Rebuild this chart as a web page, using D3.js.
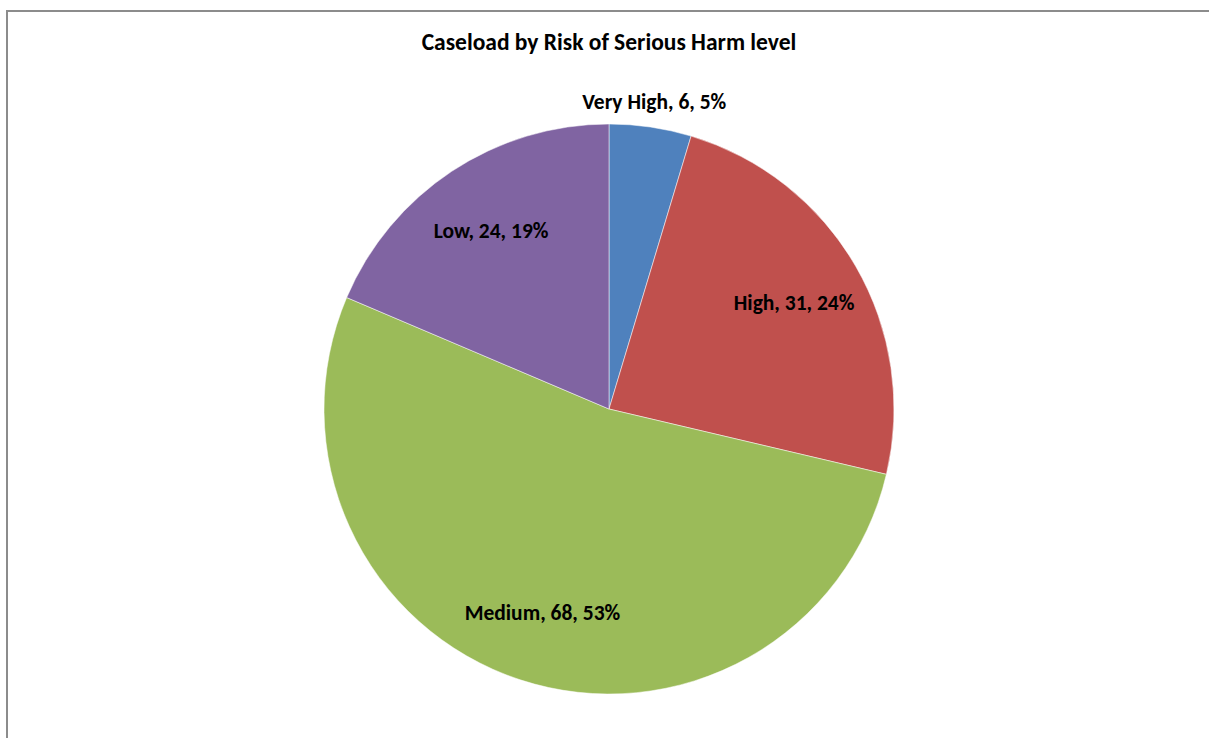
<!DOCTYPE html>
<html>
<head>
    <title>Caseload by Risk of Serious Harm level</title>
    <script src="https://cdnjs.cloudflare.com/ajax/libs/d3/7.8.5/d3.min.js"></script>
    <style>
        body { margin: 0; background: #fff; }
        .lbl {
            font-family: Carlito, 'Open Sans', 'Liberation Sans', sans-serif;
            font-weight: bold;
            fill: #000;
        }
    </style>
</head>
<body>
    <div id="chart"></div>
    <script>
//------------------------------------DATA--------------------------
        var categories = ["Very High", "High", "Medium", "Low"];
        var caseCounts = [6, 31, 68, 24];
        var percents = ["5%", "24%", "53%", "19%"];
        var sliceColors = ["#4F81BD", "#C0504D", "#9BBB59", "#8064A2"];

//------------------------------------MAKES THE BOX--------------------------
        var width = 1209, height = 738;
        var svg = d3.select("#chart").append("svg")
            .attr("width", width)
            .attr("height", height);

        // chart frame, runs off the right and bottom edges
        svg.append("rect")
            .attr("x", 7).attr("y", 11)
            .attr("width", 1240).attr("height", 780)
            .attr("fill", "none")
            .attr("stroke", "#8c8c8c")
            .attr("stroke-width", 2);

        svg.append("text")
            .attr("class", "lbl")
            .attr("x", 609).attr("y", 42)
            .attr("dy", "0.35em")
            .attr("text-anchor", "middle")
            .style("font-size", "23.5px")
            .text("Caseload by Risk of Serious Harm level");

//------------------------------------MAKES THE PIE--------------------------
        var cx = 609, cy = 409, radius = 285;
        var data = categories.map(function (c, i) {
            return { name: c, value: caseCounts[i], pct: percents[i], color: sliceColors[i] };
        });

        var pie = d3.pie().sort(null).value(function (d) { return d.value; });
        var arc = d3.arc().innerRadius(0).outerRadius(radius);
        var labelArc = d3.arc().innerRadius(radius * 0.75).outerRadius(radius * 0.75);
        var outerArc = d3.arc().innerRadius(radius * 1.09).outerRadius(radius * 1.09);

        var g = svg.append("g").attr("transform", "translate(" + cx + "," + cy + ")");
        var slices = pie(data);

        g.selectAll("path")
            .data(slices)
            .enter()
            .append("path")
            .attr("d", arc)
            .attr("fill", function (d) { return d.data.color; })
            .attr("stroke", "#fff")
            .attr("stroke-width", 0.5);

//------------------------------------MAKES LABELS--------------------------
        g.selectAll("text.slice")
            .data(slices)
            .enter()
            .append("text")
            .attr("class", "lbl slice")
            .attr("transform", function (d) {
                // small slice gets its label outside the pie
                var p = (d.endAngle - d.startAngle) < 0.4 ? outerArc.centroid(d) : labelArc.centroid(d);
                return "translate(" + p[0] + "," + p[1] + ")";
            })
            .attr("dy", "0.35em")
            .attr("text-anchor", "middle")
            .style("font-size", "21.5px")
            .text(function (d) { return d.data.name + ", " + d.data.value + ", " + d.data.pct; });
    </script>
</body>
</html>
